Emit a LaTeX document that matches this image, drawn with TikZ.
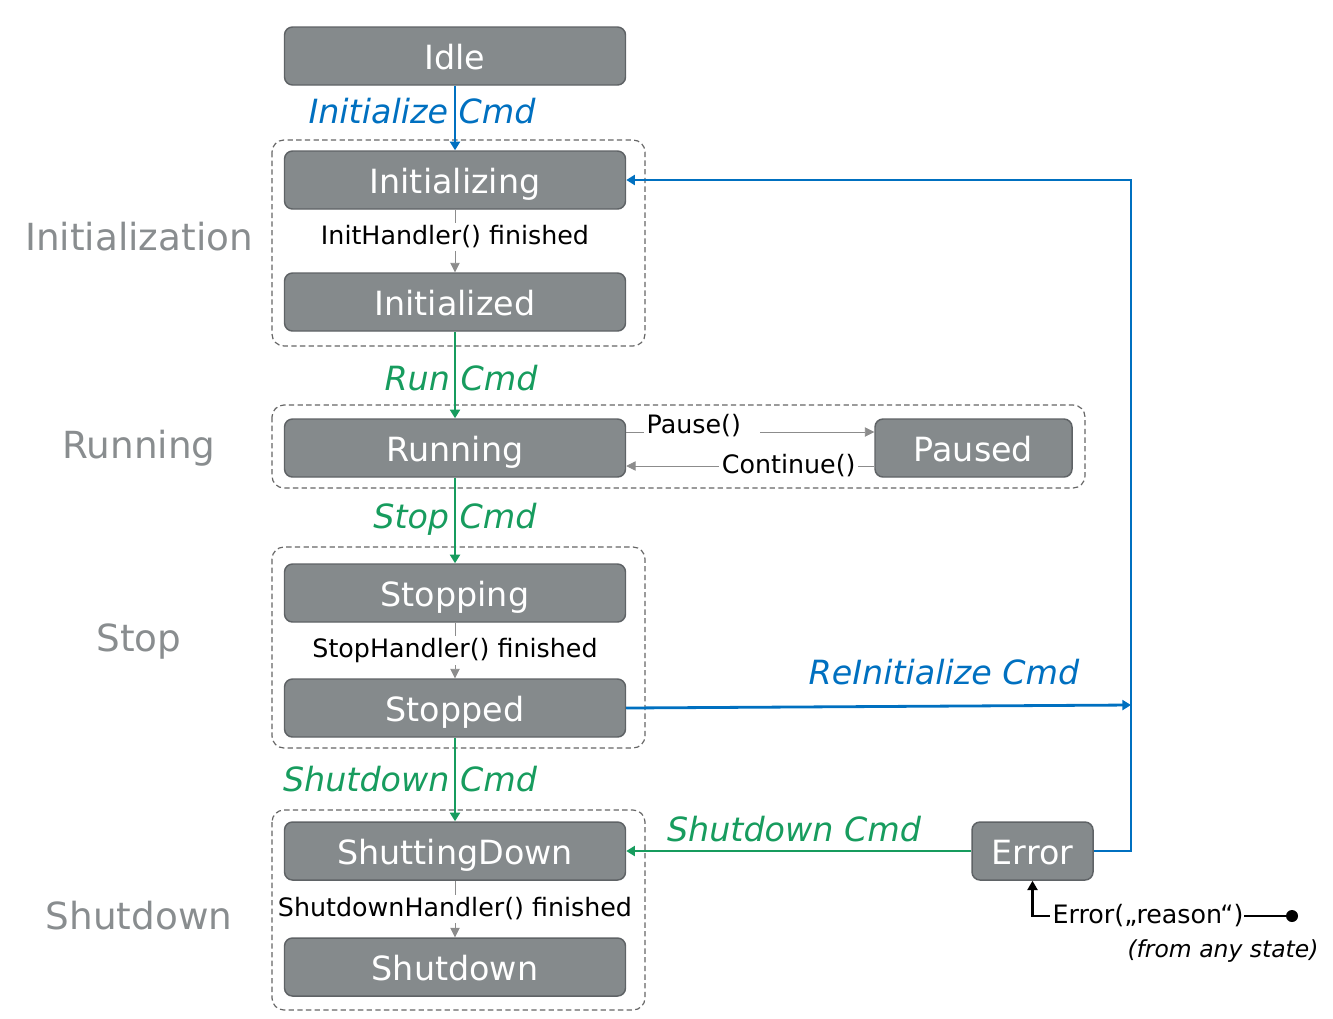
\documentclass[tikz,border=0pt]{standalone}
\usepackage{fontspec}
\setmainfont{DejaVu Sans}
\usetikzlibrary{arrows.meta}

\definecolor{boxgray}{HTML}{858A8C}
\definecolor{boxedge}{HTML}{5F6366}
\definecolor{cmdblue}{HTML}{0070C0}
\definecolor{cmdgreen}{HTML}{179C5E}
\definecolor{labelgray}{HTML}{898D8F}
\definecolor{groupedge}{HTML}{666666}
\definecolor{handlergray}{HTML}{8C8C8C}

\tikzset{
  state/.style={draw=boxedge, fill=boxgray, line width=1.1pt, rounded corners=6pt,
    text=white, minimum width=255.75pt, minimum height=43.5pt, inner sep=0pt,
    text height=20pt, text depth=0pt, font=\fontsize{25}{30}\selectfont},
  group/.style={draw=groupedge, line width=0.9pt, rounded corners=9pt,
    dash pattern=on 4pt off 2.5pt},
  grouplabel/.style={text=labelgray, text height=20pt, text depth=0pt,
    font=\fontsize{28}{34}\selectfont},
  handler/.style={draw=handlergray, line width=0.6pt, -{Triangle[width=7pt,length=7pt]}},
  blueline/.style={draw=cmdblue, line width=2.1pt, -{Triangle[width=7.5pt,length=6.5pt]}},
  greenline/.style={draw=cmdgreen, line width=2.1pt, -{Triangle[width=7.5pt,length=6.5pt]}},
  bluecmd/.style={text=cmdblue, inner sep=1pt, font=\fontsize{25}{30}\selectfont\itshape},
  greencmd/.style={text=cmdgreen, inner sep=1pt, font=\fontsize{25}{30}\selectfont\itshape},
  event/.style={fill=white, inner sep=2pt, font=\fontsize{19}{23}\selectfont},
}

\begin{document}
\begin{tikzpicture}[x=0.75pt, y=-0.75pt]
  \useasboundingbox (0,0) rectangle (1333,1018);

  % groups
  \draw[group] (272,140) rectangle (645,346);
  \draw[group] (272,405) rectangle (1085,488);
  \draw[group] (272,547) rectangle (645,748);
  \draw[group] (272,810) rectangle (645,1010);
  \node[grouplabel] (initgroup) at (139,237) {Initialization};
  \node[grouplabel] (rungroup) at (139,445) {Running};
  \node[grouplabel] (stopgroup) at (139,638) {Stop};
  \node[grouplabel] (shutgroup) at (139,916) {Shutdown};

  % states
  \node[state] (idle) at (455,56) {Idle};
  \node[state] (initializing) at (455,180) {Initializing};
  \node[state] (initialized) at (455,302) {Initialized};
  \node[state] (running) at (455,448) {Running};
  \node[state, minimum width=147.75pt] (paused) at (973.5,448) {Paused};
  \node[state] (stopping) at (455,593) {Stopping};
  \node[state] (stopped) at (455,708) {Stopped};
  \node[state] (shuttingdown) at (455,851) {ShuttingDown};
  \node[state] (shutdown) at (455,967) {Shutdown};
  \node[state, minimum width=90.75pt] (error) at (1032.5,851) {Error};

  % commands
  \draw[blueline] (idle) -- (initializing);
  \node[bluecmd] (initcmd) at (422,111) {Initialize Cmd};
  \draw[greenline] (initialized) -- (running);
  \node[greencmd] (runcmd) at (461,378) {Run Cmd};
  \draw[greenline] (running) -- (stopping);
  \node[greencmd] (stopcmd) at (455,519) {Stop Cmd};
  \draw[greenline] (stopped) -- (shuttingdown);
  \node[greencmd] (shutcmd) at (410,779) {Shutdown Cmd};

  % handlers
  \draw[handler] (initializing) -- node[event, yshift=3pt] {InitHandler() finished} (initialized);
  \draw[handler] (stopping) -- node[event] {StopHandler() finished} (stopped);
  \draw[handler] (shuttingdown) -- node[event] {ShutdownHandler() finished} (shutdown);
  \draw[handler] ([yshift=12pt]running.east) -- node[event, pos=0, anchor=west, xshift=13pt, yshift=4.5pt] {Pause()\kern12pt} ([yshift=12pt]paused.west);
  \draw[handler] ([yshift=-13.5pt]paused.west) -- node[event, pos=0.345] {Continue()} ([yshift=-13.5pt]running.east);

  % reinitialize and error
  \coordinate (reinit) at (1131,705);
  \coordinate (rail) at (1131,180);
  \draw[blueline] (stopped.east) -- (reinit);
  \node[bluecmd] (reinitcmd) at (944,672) {ReInitialize Cmd};
  \draw[blueline] (error.east) -| (rail) -- (initializing.east);
  \draw[greenline] (error.west) -- (shuttingdown.east);
  \node[greencmd] (errshutcmd) at (794,829) {Shutdown Cmd};

  \coordinate (anystate) at (1292,916);
  \fill (anystate) circle (4.5pt);
  \node[inner sep=2pt, font=\fontsize{19}{23}\selectfont] (reason) at (1148,916) {Error(„reason“)};
  \draw[line width=1.6pt] (anystate) -- ([xshift=-2pt]reason.east);
  \draw[line width=1.6pt, -{Triangle[width=7.5pt,length=7pt]}] (reason.west) -| (error.south);
  \node[font=\fontsize{17.6}{21}\selectfont\itshape] (anynote) at (1223,951) {(from any state)};
\end{tikzpicture}
\end{document}
